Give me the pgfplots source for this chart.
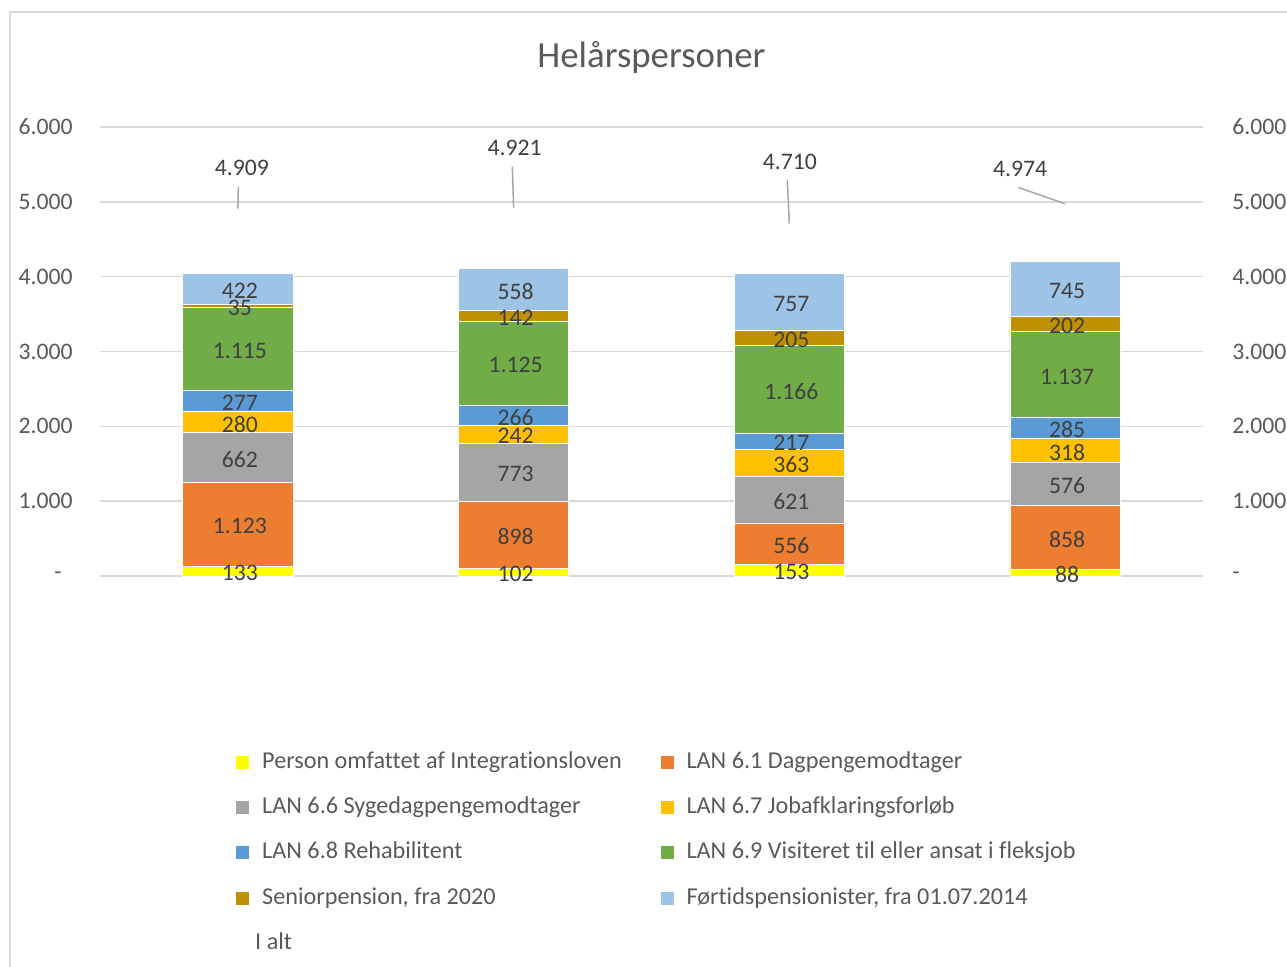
\documentclass[border=0pt]{standalone}
\usepackage{pgfplots}
\pgfplotsset{compat=1.18}
\usepackage{pgfplotstable}
\usepackage{fontspec}
\setmainfont{Carlito}[Ligatures={NoCommon,NoContextual}]
\definecolor{cYellow}{HTML}{FFFF00}
\definecolor{cOrange}{HTML}{ED7D31}
\definecolor{cGray}{HTML}{A5A5A5}
\definecolor{cGold}{HTML}{FFC000}
\definecolor{cBlue}{HTML}{5B9BD5}
\definecolor{cGreen}{HTML}{70AD47}
\definecolor{cDkGold}{HTML}{BF9000}
\definecolor{cLtBlue}{HTML}{9DC3E6}
\definecolor{txt}{HTML}{595959}
\definecolor{lbl}{HTML}{404040}
\definecolor{gridc}{HTML}{D9D9D9}
\definecolor{leader}{HTML}{A6A6A6}
\pgfdeclareplotmark{nothing}{}
\newcommand{\fs}{\fontsize{11.85}{14}\selectfont}
\newcommand{\fl}{\fontsize{12.1}{14}\selectfont}

\pgfplotstableread{
x s1 s2 s3 s4 s5 s6 s7 s8
0 133 1123 662 280 277 1115 35 422
1 102 898 773 242 266 1125 142 558
2 153 556 621 363 217 1166 205 757
3 88 858 576 318 285 1137 202 745
}\bars

\pgfplotstableread{
x t lbx lby edx edy
0 4909 2 20.5 0.25 11
1 4921 0.5 30 -0.65 20.6
2 4710 0.3 30.85 -1.05 21.85
3 4974 -22.5 17.5 -23.4 8.15
}\totals

\newcommand{\segment}[3]{%
  \addplot[fill=#2, draw=white, line width=0.4pt,
    legend image code/.code={\fill[#2] (0pt,-3pt) rectangle (6pt,3pt);}]
  table[x=x, y=#1, meta=#1]{\bars};
  \addlegendentry{#3}}

\begin{document}
\begin{tikzpicture}
\useasboundingbox (0,0) rectangle (643.5pt,-483.5pt);
\draw[gridc, line width=0.75pt] (5pt,-6pt) rectangle (700pt,-600pt);
\begin{axis}[
  at={(50pt,-288pt)}, anchor=south west,
  scale only axis, width=551.5pt, height=224.5pt,
  ybar stacked, bar width=0.4,
  xmin=-0.5, xmax=3.5, ymin=0, ymax=6000,
  xtick=\empty,
  ytick={0,1000,2000,3000,4000,5000,6000},
  yticklabels={-\hspace*{5.5pt},1.000,2.000,3.000,4.000,5.000,6.000},
  ymajorgrids, grid style={draw=gridc, line width=0.75pt},
  axis line style={draw=none},
  major tick length=0pt,
  tick label style={font=\fs, text=txt},
  yticklabel style={anchor=east, inner sep=0pt, xshift=-13.5pt},
  title={Helårspersoner},
  every axis title/.style={at={(0.5,1)}, anchor=center, yshift=35pt,
    font=\fontsize{18.4}{22}\selectfont, text=txt},
  point meta=explicit,
  nodes near coords,
  nodes near coords align=center,
  nodes near coords style={font=\fs, text=lbl, inner sep=0pt, xshift=1pt, yshift=-1pt},
  /pgf/number format/1000 sep={.},
  /pgf/number format/assume math mode=true,
  legend columns=2,
  legend cell align=left,
  legend style={draw=none, fill=none, inner sep=0pt, at={(0.1233,-0.381)}, anchor=north west,
    font=\fl, text=txt, row sep=7.6pt, nodes={text height=8.5pt, text depth=2.5pt},
    /tikz/every even column/.append style={column sep=17.5pt},
    /tikz/every odd column/.append style={column sep=4.5pt}},
  clip=false,
]
\segment{s1}{cYellow}{Person omfattet af Integrationsloven}
\segment{s2}{cOrange}{LAN 6.1 Dagpengemodtager}
\segment{s3}{cGray}{LAN 6.6 Sygedagpengemodtager}
\segment{s4}{cGold}{LAN 6.7 Jobafklaringsforløb}
\segment{s5}{cBlue}{LAN 6.8 Rehabilitent}
\segment{s6}{cGreen}{LAN 6.9 Visiteret til eller ansat i fleksjob}
\segment{s7}{cDkGold}{Seniorpension, fra 2020}
\segment{s8}{cLtBlue}{Førtidspensionister, fra 01.07.2014}
\addlegendimage{draw=white, fill=white, legend image code/.code={\path[draw=white] (0pt,0pt) -- (3pt,0pt);}}
\addlegendentry{\hspace*{-3.5pt}I alt}
\end{axis}
\begin{axis}[
  at={(50pt,-288pt)}, anchor=south west,
  scale only axis, width=551.5pt, height=224.5pt,
  xmin=-0.5, xmax=3.5, ymin=0, ymax=6000,
  hide x axis,
  axis y line*=right,
  y axis line style={draw=none},
  major tick length=0pt,
  ytick={0,1000,2000,3000,4000,5000,6000},
  yticklabels={-,1.000,2.000,3.000,4.000,5.000,6.000},
  yticklabel style={font=\fs, text=txt, anchor=west, inner sep=0pt, xshift=14.5pt},
  clip=false,
]
\addplot[scatter, only marks, mark=nothing,
  visualization depends on={\thisrow{t}\as\totv},
  visualization depends on={\thisrow{lbx}\as\lbx},
  visualization depends on={\thisrow{lby}\as\lby},
  visualization depends on={\thisrow{edx}\as\edx},
  visualization depends on={\thisrow{edy}\as\edy},
  scatter/@pre marker code/.code={%
    \draw[leader, line width=0.75pt] (0pt,0pt) -- (\edx pt,\edy pt);
    \node[font=\fs, text=lbl, inner sep=0pt] at (\lbx pt,\lby pt)
      {\pgfmathprintnumber[1000 sep={.},assume math mode=true]{\totv}};
  },
  scatter/@post marker code/.code={},
] table[x=x, y=t]{\totals};
\end{axis}
\end{tikzpicture}
\end{document}
